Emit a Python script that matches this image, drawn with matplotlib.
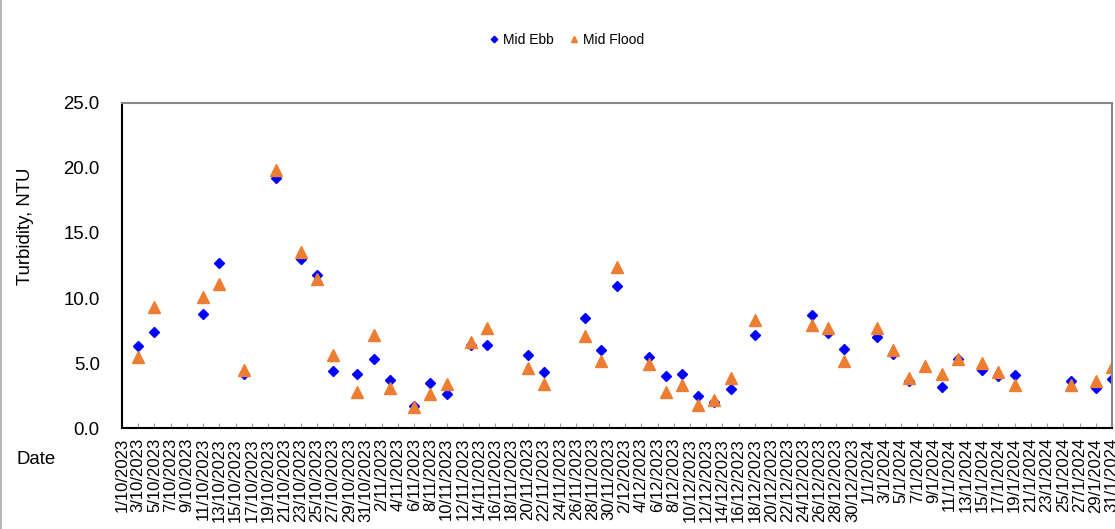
import datetime as dt
import matplotlib
matplotlib.use("Agg")
import matplotlib.pyplot as plt
from matplotlib.patches import Rectangle

plt.rcParams['font.family'] = ['Liberation Sans', 'DejaVu Sans']

# sampling dates (d/m/yyyy) and turbidity readings, NTU
ebb_dates = ['3/10/2023', '5/10/2023', '11/10/2023', '13/10/2023', '16/10/2023', '20/10/2023',
             '23/10/2023', '25/10/2023', '27/10/2023', '30/10/2023', '1/11/2023', '3/11/2023',
             '6/11/2023', '8/11/2023', '10/11/2023', '13/11/2023', '15/11/2023', '20/11/2023',
             '22/11/2023', '27/11/2023', '29/11/2023', '1/12/2023', '5/12/2023', '7/12/2023',
             '9/12/2023', '11/12/2023', '13/12/2023', '15/12/2023', '18/12/2023', '25/12/2023',
             '27/12/2023', '29/12/2023', '2/1/2024', '4/1/2024', '6/1/2024', '10/1/2024',
             '12/1/2024', '15/1/2024', '17/1/2024', '19/1/2024', '26/1/2024', '29/1/2024',
             '31/1/2024']
ebb_vals = [6.3, 7.4, 8.8, 12.7, 4.2, 19.2,
            13.0, 11.8, 4.4, 4.2, 5.3, 3.7,
            1.7, 3.5, 2.6, 6.4, 6.4, 5.6,
            4.3, 8.5, 6.0, 10.9, 5.5, 4.0,
            4.2, 2.5, 2.0, 3.0, 7.2, 8.7,
            7.3, 6.1, 7.0, 5.7, 3.6, 3.2,
            5.3, 4.5, 4.0, 4.1, 3.6, 3.1,
            3.8]

flood_dates = ['3/10/2023', '5/10/2023', '11/10/2023', '13/10/2023', '16/10/2023', '20/10/2023',
               '23/10/2023', '25/10/2023', '27/10/2023', '30/10/2023', '1/11/2023', '3/11/2023',
               '6/11/2023', '8/11/2023', '10/11/2023', '13/11/2023', '15/11/2023', '20/11/2023',
               '22/11/2023', '27/11/2023', '29/11/2023', '1/12/2023', '5/12/2023', '7/12/2023',
               '9/12/2023', '11/12/2023', '13/12/2023', '15/12/2023', '18/12/2023', '25/12/2023',
               '27/12/2023', '29/12/2023', '2/1/2024', '4/1/2024', '6/1/2024', '8/1/2024',
               '10/1/2024', '12/1/2024', '15/1/2024', '17/1/2024', '19/1/2024', '26/1/2024',
               '29/1/2024', '31/1/2024']
flood_vals = [5.5, 9.3, 10.1, 11.1, 4.5, 19.8,
              13.5, 11.5, 5.6, 2.8, 7.2, 3.1,
              1.6, 2.6, 3.4, 6.6, 7.7, 4.6,
              3.4, 7.1, 5.2, 12.4, 4.9, 2.8,
              3.3, 1.8, 2.2, 3.9, 8.3, 7.9,
              7.7, 5.2, 7.7, 6.0, 3.9, 4.8,
              4.2, 5.3, 5.0, 4.3, 3.3, 3.3,
              3.6, 4.7]


def to_date(s):
    return dt.datetime.strptime(s, '%d/%m/%Y')


fig = plt.figure(figsize=(11.15, 5.29), dpi=100)
ax = fig.add_axes([122 / 1115, 1 - 428.3 / 529, 990 / 1115, 325.6 / 529])

ax.plot([to_date(d) for d in ebb_dates], ebb_vals, linestyle='none', marker='D',
        markersize=5.5, color='#0000FF', label='Mid Ebb')
ax.plot([to_date(d) for d in flood_dates], flood_vals, linestyle='none', marker='^',
        markersize=8, color='#ED7D31', label='Mid Flood')

start, end = dt.datetime(2023, 10, 1), dt.datetime(2024, 1, 31)
ax.set_xlim(start, end)
ax.set_ylim(0, 25)
ax.set_yticks([0, 5, 10, 15, 20, 25])
ax.set_yticklabels([f'{v:.1f}' for v in [0, 5, 10, 15, 20, 25]], fontsize=13.4)

ticks = [start + dt.timedelta(days=i) for i in range(0, 123, 2)]
ax.set_xticks(ticks)
ax.set_xticklabels([f'{t.day}/{t.month}/{t.year}' for t in ticks], rotation=90, fontsize=12)
ax.tick_params(axis='x', direction='in', length=3.6, width=0.8, color='#999999', pad=7)
ax.tick_params(axis='y', length=0, pad=16)

for side in ['left', 'bottom']:
    ax.spines[side].set_color('black')
    ax.spines[side].set_linewidth(1.5)
for side in ['top', 'right']:
    ax.spines[side].set_color('#888888')
    ax.spines[side].set_linewidth(1.5)

fig.text(25 / 1115, 1 - 226 / 529, 'Turbidity, NTU', rotation=90, ha='center', va='center', fontsize=13.4)
fig.text(17 / 1115, 1 - 460 / 529, 'Date', ha='left', va='center', fontsize=13.4)

fig.legend(loc='center', bbox_to_anchor=(567 / 1115, 1 - 40 / 529), ncol=2, frameon=False,
           fontsize=10, markerscale=0.6, handlelength=0.6, handletextpad=0.3, columnspacing=1.2)

# chart border
fig.patches.append(Rectangle((1 / 1115, -0.01), 1.05, 1.05, transform=fig.transFigure,
                             fill=False, edgecolor='#aaaaaa', linewidth=1.2))

fig.savefig('out.png', dpi=100)
